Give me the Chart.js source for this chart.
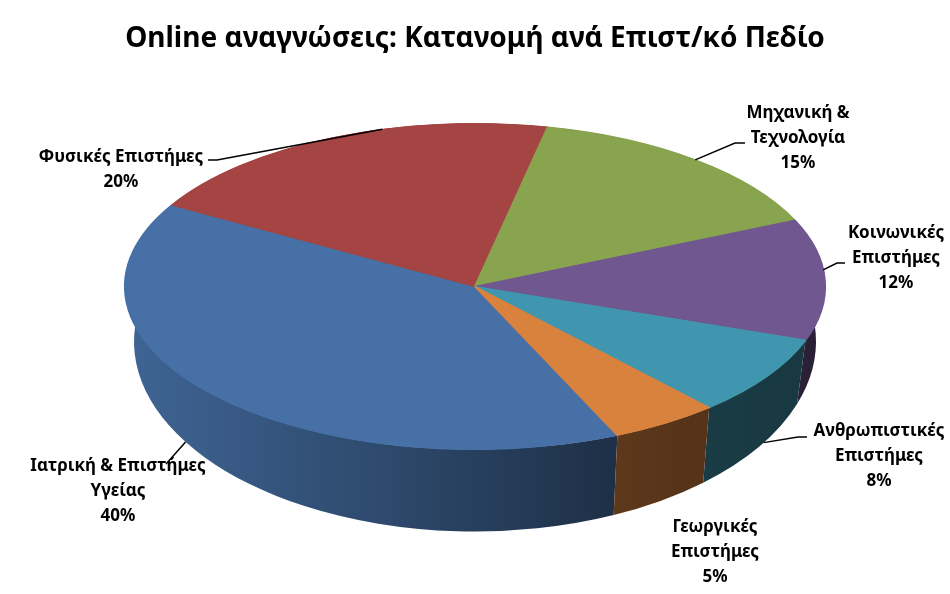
<!DOCTYPE html>
<html lang="el">
<head>
<meta charset="utf-8">
<title>Online αναγνώσεις</title>
<script src="https://cdn.jsdelivr.net/npm/chart.js@4.4.0/dist/chart.umd.min.js"></script>
<style>
  html, body { margin: 0; padding: 0; background: #fff; }
  #wrap { width: 950px; height: 594px; position: relative; }
</style>
</head>
<body>
<div id="wrap"><canvas id="readsChart"></canvas></div>
<script>
// Chart data
const categories = [
  ['Ιατρική & Επιστήμες', 'Υγείας'],
  ['Φυσικές Επιστήμες'],
  ['Μηχανική &', 'Τεχνολογία'],
  ['Κοινωνικές', 'Επιστήμες'],
  ['Ανθρωπιστικές', 'Επιστήμες'],
  ['Γεωργικές', 'Επιστήμες']
];
const shares = [40, 20, 15, 12, 8, 5];
const sliceColors = ['#4670A6', '#A44443', '#89A44E', '#70578F', '#4096AE', '#D8823E'];

// Look of the fake 3D pie
const RX = 350;                                   // horizontal radius of the top face on screen
const BOTTOM = { dy: 55, rx: 341, ry: 190 };      // bottom rim, seen at a steeper angle
const LINE_H = 25;
const LABEL_FONT = 'bold 17px "Noto Sans"';

// where each label's text sits, the stub of its leader line,
// and how far along the slice the leader touches the pie
const labelSpots = [
  { x: 118, y: 466, lead: [[166, 464]], at: 0.57 },
  { x: 121, y: 157, lead: [[208, 160], [217, 160]], at: 0.62 },
  { x: 798, y: 113, lead: [[745, 143], [735, 143]], at: 0.5 },
  { x: 896, y: 233, lead: [[845, 263], [837, 263]], at: 0.42 },
  { x: 879, y: 431, lead: [[807, 437], [798, 437]], at: 0.45 },
  { x: 715, y: 527, lead: null }
];

// darkening of the side wall from left to right
const sideStops = [[0, 0.9], [0.4, 0.63], [0.68, 0.44], [0.8, 0.4], [1, 0.37]];

function shade(hex, f) {
  const n = parseInt(hex.slice(1), 16);
  const r = Math.round(((n >> 16) & 255) * f);
  const g = Math.round(((n >> 8) & 255) * f);
  const b = Math.round((n & 255) * f);
  return `rgb(${r},${g},${b})`;
}

// Squash the pie into an ellipse and give it a side wall
const pie3d = {
  id: 'pie3d',
  beforeDatasetsDraw(chart) {
    const arcs = chart.getDatasetMeta(0).data;
    const ctx = chart.ctx;
    const { x: cx, y: cy, outerRadius: r } = arcs[0];
    const sx = RX / r;
    ctx.save();
    ctx.translate(cx, cy);
    ctx.scale(sx, 1);
    ctx.translate(-cx, -cy);

    arcs.forEach((arc, i) => {
      const grad = ctx.createLinearGradient(cx - r, 0, cx + r, 0);
      sideStops.forEach(s => grad.addColorStop(s[0], shade(sliceColors[i], s[1])));
      ctx.beginPath();
      ctx.arc(cx, cy, r, arc.startAngle, arc.endAngle);
      ctx.ellipse(cx, cy + BOTTOM.dy, BOTTOM.rx / sx, BOTTOM.ry, 0, arc.endAngle, arc.startAngle, true);
      ctx.closePath();
      ctx.fillStyle = grad;
      ctx.fill();
    });
  },
  afterDatasetsDraw(chart) {
    chart.ctx.restore();
  },
  afterDraw(chart) {
    const arcs = chart.getDatasetMeta(0).data;
    const ctx = chart.ctx;
    const { x: cx, y: cy, outerRadius: r } = arcs[0];
    ctx.save();
    ctx.font = LABEL_FONT;
    ctx.fillStyle = '#000';
    ctx.strokeStyle = '#000';
    ctx.lineWidth = 1.5;
    ctx.textAlign = 'center';
    ctx.textBaseline = 'middle';

    arcs.forEach((arc, i) => {
      const spot = labelSpots[i];
      const lines = [...categories[i], shares[i] + '%'];
      lines.forEach((t, k) => ctx.fillText(t, spot.x, spot.y + k * LINE_H));

      if (spot.lead) {
        const a = arc.startAngle + (arc.endAngle - arc.startAngle) * spot.at;
        let px = cx + Math.cos(a) * RX;
        let py = cy + Math.sin(a) * r;
        if (Math.sin(a) > 0.3) {
          // front slices: the leader touches the lower rim
          px = cx + Math.cos(a) * BOTTOM.rx;
          py = cy + BOTTOM.dy + Math.sin(a) * BOTTOM.ry;
        }
        ctx.beginPath();
        ctx.moveTo(spot.lead[0][0], spot.lead[0][1]);
        spot.lead.slice(1).forEach(p => ctx.lineTo(p[0], p[1]));
        ctx.lineTo(px, py);
        ctx.stroke();
      }
    });
    ctx.restore();
  }
};

document.addEventListener('DOMContentLoaded', () => {
  const ctx = document.getElementById('readsChart').getContext('2d');
  new Chart(ctx, {
    type: 'pie',
    data: {
      labels: categories,
      datasets: [{
        data: shares,
        backgroundColor: sliceColors,
        borderColor: sliceColors,
        borderWidth: 1,
        hoverOffset: 0,
        offset: 0
      }]
    },
    options: {
      responsive: true,
      maintainAspectRatio: false,
      animation: false,
      events: [],
      rotation: 156,
      layout: { padding: { top: 0, bottom: 144, left: 0, right: 0 } },
      plugins: {
        legend: { display: false },
        tooltip: { enabled: false },
        title: {
          display: true,
          text: 'Online αναγνώσεις: Κατανομή ανά Επιστ/κό Πεδίο',
          color: '#000',
          font: { family: '"Noto Sans"', size: 28, weight: 'bold', lineHeight: 1.2 },
          padding: { top: 22, bottom: 67.4 }
        }
      }
    },
    plugins: [pie3d]
  });
});
</script>
</body>
</html>
